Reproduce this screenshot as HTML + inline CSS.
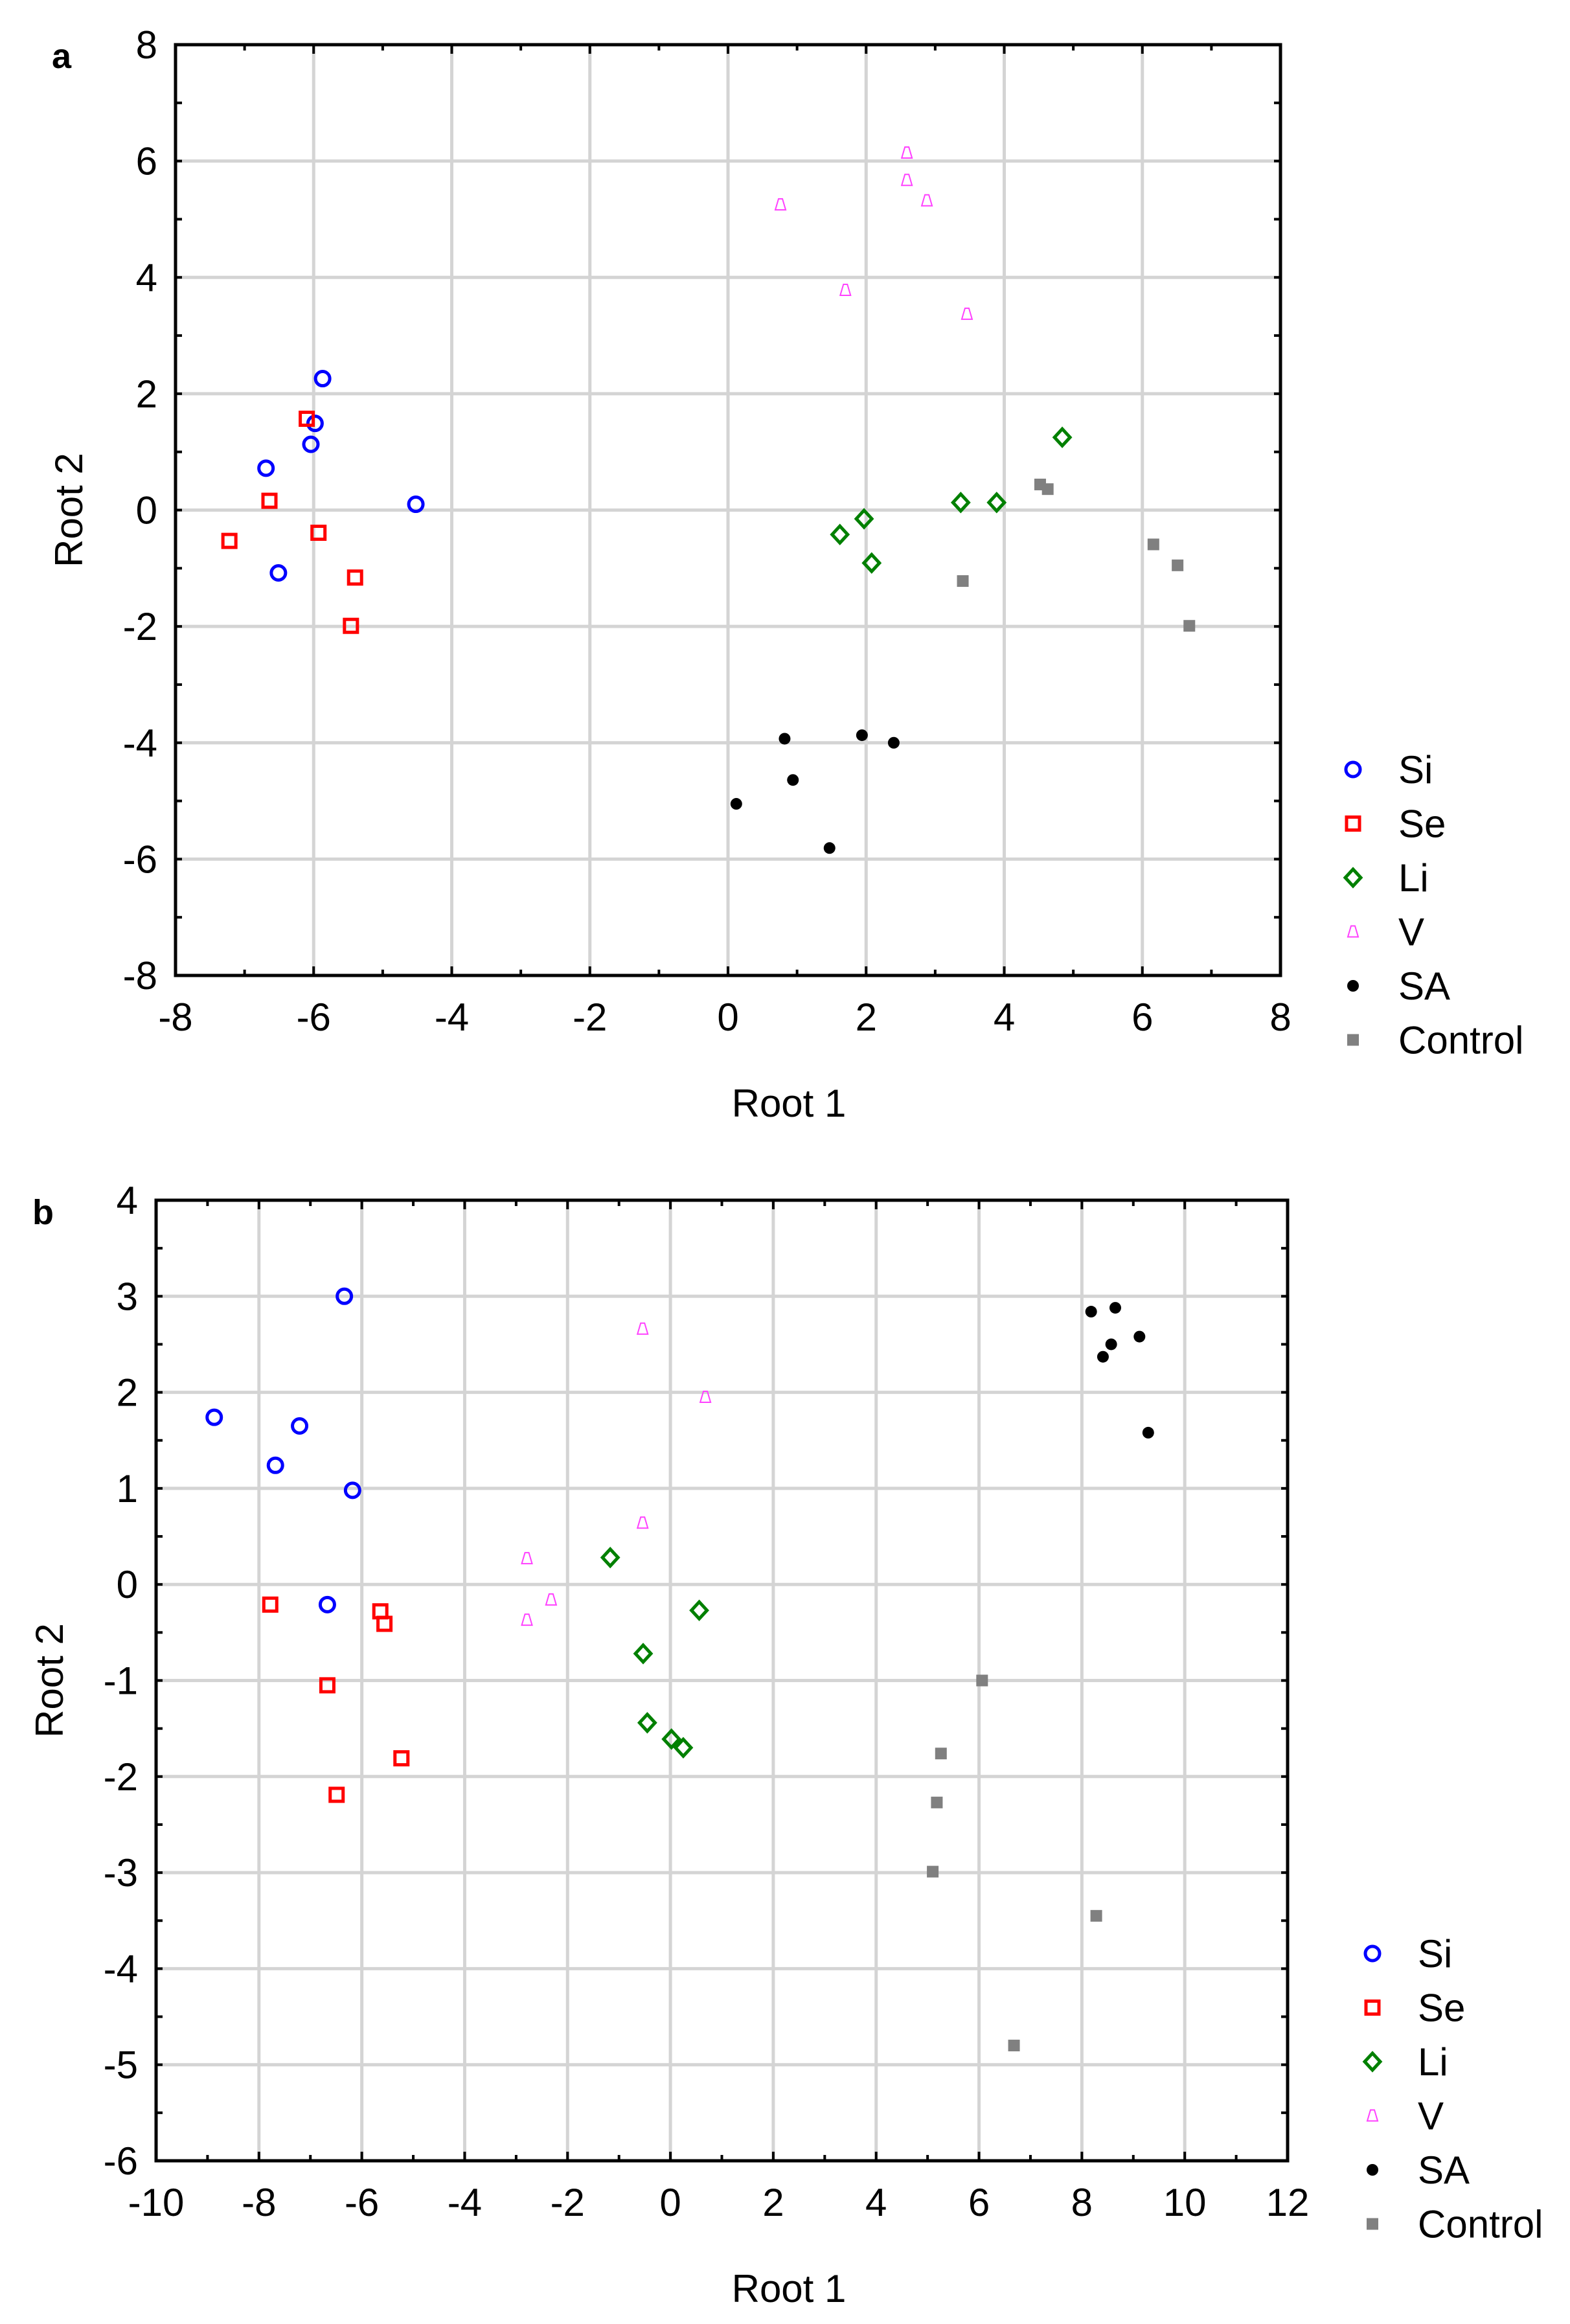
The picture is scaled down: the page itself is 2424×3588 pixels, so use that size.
<!DOCTYPE html>
<html><head><meta charset="utf-8"><style>
html,body{margin:0;padding:0;background:#fff}
svg{display:block;font-family:"Liberation Sans",sans-serif}
</style></head><body>
<svg id="chart" width="2424" height="3588" viewBox="0 0 2424 3588" xmlns="http://www.w3.org/2000/svg"></svg>
<script>
// Panel a data
const aSiX=[-5.87,-5.98,-6.04,-6.69,-6.51,-4.52], aSiY=[2.26,1.49,1.13,0.72,-1.08,0.10];
const aSeX=[-6.10,-6.64,-7.22,-5.93,-5.40,-5.46], aSeY=[1.57,0.16,-0.53,-0.39,-1.16,-1.99];
const aLiX=[1.62,1.97,2.08,3.37,3.89,4.84], aLiY=[-0.42,-0.15,-0.91,0.13,0.13,1.25];
const aVX=[0.76,2.59,2.59,2.88,1.70,3.46], aVY=[5.25,6.14,5.67,5.32,3.78,3.37];
const aSAX=[0.82,1.94,2.40,0.94,0.12,1.47], aSAY=[-3.93,-3.87,-4.00,-4.64,-5.05,-5.81];
const aCtX=[4.52,4.63,3.40,6.16,6.51,6.68], aCtY=[0.44,0.36,-1.22,-0.59,-0.95,-1.99];
const aXTicks=[-8,-6,-4,-2,0,2,4,6,8], aYTicks=[-8,-6,-4,-2,0,2,4,6,8];
// Panel b data
const bSiX=[-6.34,-8.87,-7.21,-7.68,-6.18,-6.67], bSiY=[3.00,1.74,1.65,1.24,0.98,-0.21];
const bSeX=[-7.78,-5.64,-5.56,-6.67,-5.23,-6.49], bSeY=[-0.21,-0.28,-0.41,-1.05,-1.81,-2.19];
const bLiX=[-1.17,0.56,-0.53,-0.45,0.02,0.25], bLiY=[0.28,-0.27,-0.72,-1.44,-1.61,-1.70];
const bVX=[-0.54,0.68,-0.54,-2.79,-2.32,-2.79], bVY=[2.66,1.95,0.64,0.27,-0.16,-0.37];
const bSAX=[8.18,8.65,8.57,9.12,8.41,9.29], bSAY=[2.84,2.88,2.50,2.58,2.37,1.58];
const bCtX=[6.06,5.26,5.18,5.10,8.28,6.68], bCtY=[-1.00,-1.76,-2.27,-2.99,-3.45,-4.80];
const bXTicks=[-10,-8,-6,-4,-2,0,2,4,6,8,10,12], bYTicks=[-6,-5,-4,-3,-2,-1,0,1,2,3,4];
const groups=["Si","Se","Li","V","SA","Control"];

const NS="http://www.w3.org/2000/svg", svg=document.getElementById('chart');
function mk(tag,attrs,parent,text){const e=document.createElementNS(NS,tag);for(const k in attrs)e.setAttribute(k,attrs[k]);if(text!==undefined)e.textContent=text;(parent||svg).appendChild(e);return e;}

function marker(g,kind,cx,cy){
  let e;
  if(kind==="Si"){e=mk('circle',{cx,cy,r:11,fill:'none',stroke:'#0000ff','stroke-width':5},g);}
  else if(kind==="Se"){e=mk('rect',{x:cx-10,y:cy-10,width:20,height:20,fill:'none',stroke:'#ff0000','stroke-width':5},g);}
  else if(kind==="Li"){e=mk('polygon',{points:`${cx},${cy-13} ${cx+12},${cy} ${cx},${cy+13} ${cx-12},${cy}`,fill:'none',stroke:'#008000','stroke-width':5},g);}
  else if(kind==="V"){e=mk('polygon',{points:`${cx-3},${cy-9} ${cx+3},${cy-9} ${cx+8},${cy+8} ${cx-8},${cy+8}`,fill:'none',stroke:'#ff40ff','stroke-width':2},g);}
  else if(kind==="SA"){e=mk('circle',{cx,cy,r:9,fill:'#000'},g);}
  else {e=mk('rect',{x:cx-9,y:cy-9,width:18,height:18,fill:'#808080'},g);}
  return e;
}

function panel(o){
  const g=mk('g',{});
  
  
  const sx=v=>o.L+(v-o.x0)/(o.x1-o.x0)*(o.R-o.L);
  const sy=v=>o.B-(v-o.y0)/(o.y1-o.y0)*(o.B-o.T);
  o.xt.forEach(v=>{const l=mk('line',{x1:sx(v),x2:sx(v),y1:o.T,y2:o.B,stroke:'#d4d4d4','stroke-width':5},g);});
  o.yt.forEach(v=>{const l=mk('line',{x1:o.L,x2:o.R,y1:sy(v),y2:sy(v),stroke:'#d4d4d4','stroke-width':5},g);});
  for(let v=o.x0;v<=o.x1+1e-9;v+=o.xm){const x=sx(v),len=(Math.abs(v/(o.xt[1]-o.xt[0])-Math.round(v/(o.xt[1]-o.xt[0])))<1e-6)?14:9;
    mk('line',{x1:x,x2:x,y1:o.B,y2:o.B-len,stroke:'#000','stroke-width':4},g);mk('line',{x1:x,x2:x,y1:o.T,y2:o.T+len,stroke:'#000','stroke-width':4},g);}
  for(let v=o.y0;v<=o.y1+1e-9;v+=o.ym){const y=sy(v);
    mk('line',{x1:o.L,x2:o.L+10,y1:y,y2:y,stroke:'#000','stroke-width':4},g);mk('line',{x1:o.R,x2:o.R-10,y1:y,y2:y,stroke:'#000','stroke-width':4},g);}
  const fr=mk('rect',{x:o.L,y:o.T,width:o.R-o.L,height:o.B-o.T,fill:'none',stroke:'#000','stroke-width':5},g);
  
  o.xt.forEach(v=>{const t=mk('text',{x:sx(v),y:o.B+85,'font-size':60,'text-anchor':'middle',fill:'#000'},g,String(v));});
  o.yt.forEach(v=>{const t=mk('text',{x:o.L-28,y:sy(v)+21,'font-size':60,'text-anchor':'end',fill:'#000'},g,String(v));});
  let t=mk('text',{x:1218,y:o.B+218,'font-size':60,'text-anchor':'middle'},g,'Root 1');
  t=mk('text',{x:0,y:0,'font-size':60,'text-anchor':'middle',transform:`translate(${o.ytx},${(o.T+o.B)/2}) rotate(-90)`},g,'Root 2');
  t=mk('text',{x:o.lx,y:o.ly,'font-size':54,'font-weight':'bold'},g,o.label);
  o.series.forEach((s,i)=>{
    s[0].forEach((xv,j)=>{const m=marker(g,groups[i],sx(xv),sy(s[1][j]));
      
      });
  });
  groups.forEach((name,i)=>{const y=o.legY+i*83.5;
    const m=marker(g,name,o.legX,y);
    
    
    const tx=mk('text',{x:o.legX+70,y:y+21,'font-size':60},g,name);
    
    });
}

panel({name:'panel-a',label:'a',lx:80,ly:105,L:271,R:1977,T:69,B:1506,x0:-8,x1:8,y0:-8,y1:8,xm:1,ym:1,xt:aXTicks,yt:aYTicks,ytx:127,
  series:[[aSiX,aSiY],[aSeX,aSeY],[aLiX,aLiY],[aVX,aVY],[aSAX,aSAY],[aCtX,aCtY]],legX:2089,legY:1188});
panel({name:'panel-b',label:'b',lx:50,ly:1890,L:241,R:1988,T:1853,B:3336,x0:-10,x1:12,y0:-6,y1:4,xm:1,ym:0.5,xt:bXTicks,yt:bYTicks,ytx:97,
  series:[[bSiX,bSiY],[bSeX,bSeY],[bLiX,bLiY],[bVX,bVY],[bSAX,bSAY],[bCtX,bCtY]],legX:2119,legY:3016});
</script>
</body></html>
